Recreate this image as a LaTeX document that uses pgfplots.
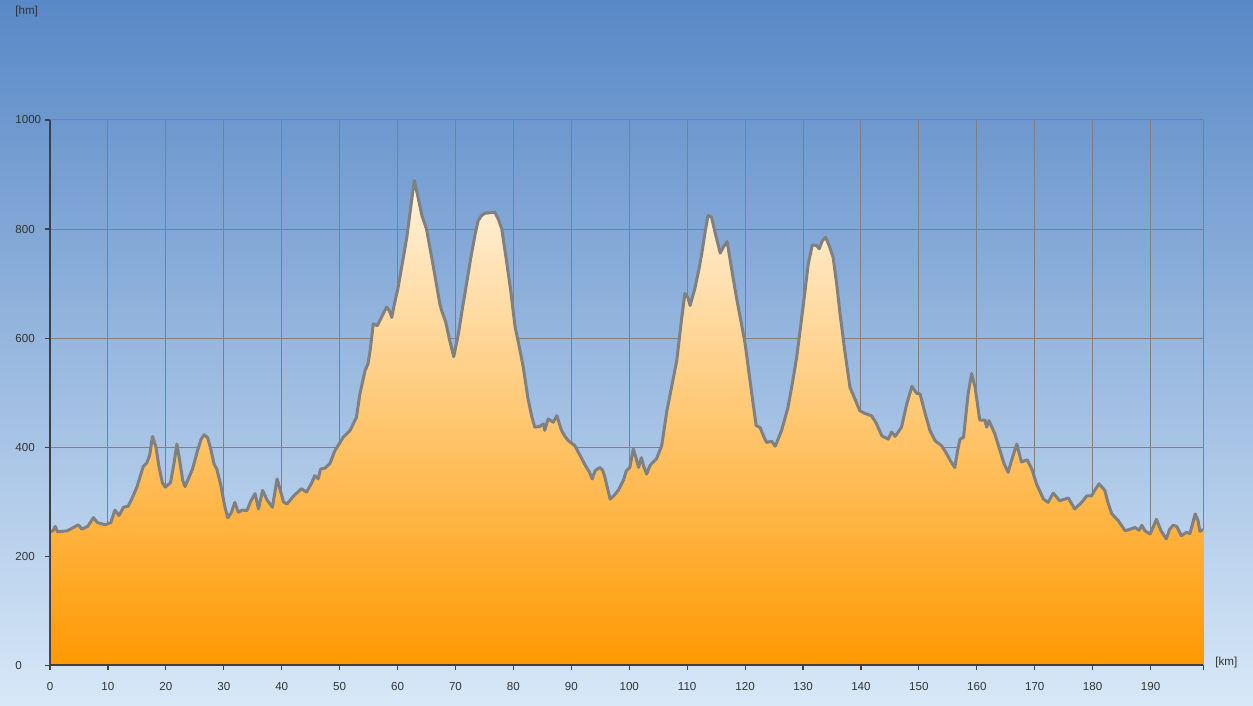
\documentclass[border=0pt]{standalone}
\usepackage{pgfplots}
\pgfplotsset{compat=1.18}
\usepackage{pgfplotstable}
\usepackage{fontspec}
\setmainfont{Liberation Sans}
\definecolor{bgtop}{RGB}{88,136,198}
\definecolor{bgbot}{RGB}{216,232,248}
\definecolor{fillTop}{RGB}{255,243,222}
\definecolor{fillBot}{RGB}{255,153,0}
\definecolor{lineGray}{RGB}{128,128,128}
\definecolor{gridGray}{RGB}{128,128,128}
\definecolor{axisDark}{RGB}{64,64,64}
\definecolor{txt}{RGB}{51,51,51}
\pgfplotstableread{
km h
0 245
0.5 247
0.9 255
1.3 245
3 247
4.9 258
5.5 250
6.5 255
7.5 271
8.2 262
9.5 258
10.5 262
11.2 285
11.9 275
12.7 290
13.5 292
14.1 305
15 327
16.1 365
16.7 371
17.2 385
17.7 420
18.3 400
18.8 365
19.4 335
19.9 327
20.8 335
21.4 370
21.9 406
22.4 375
22.9 340
23.3 328
24 345
24.6 360
25.5 395
26.1 415
26.6 423
27.2 418
27.8 395
28.3 370
28.8 360
29.5 330
30.2 290
30.7 271
31.3 280
31.9 299
32.5 281
33.2 285
34 284
34.6 300
35.4 315
36 287
36.7 321
37.5 303
38.4 290
39.2 342
39.8 320
40.3 300
40.9 296
42 310
43.4 324
44.3 318
45.2 335
45.7 348
46.3 342
46.7 360
47.5 362
48.3 370
49.2 394
50.6 418
51.8 431
52.9 455
53.5 498
54.4 541
54.9 553
55.3 580
55.8 626
56.5 623
57.3 640
58.1 657
58.6 650
59 638
59.4 660
60.1 693
61.6 785
62.4 850
62.9 889
63.5 860
64.2 825
65 800
66.2 730
67.3 663
67.6 651
68.3 630
69 596
69.7 566
70.5 608
71.2 655
71.9 699
72.6 745
73.4 791
73.9 815
74.5 825
75.1 829
76 830
76.8 831
77.4 818
78 800
78.8 742
79.5 690
80.3 620
81 585
81.7 547
82.5 490
83.2 455
83.7 437
84.5 438
85.2 443
85.4 431
86 452
86.9 446
87.5 458
88.3 431
88.9 420
89.5 412
90.6 403
91.5 385
92.4 367
93.1 355
93.6 342
94.1 357
94.9 363
95.4 358
95.8 345
96.3 322
96.7 305
97.4 312
98.1 321
99 340
99.5 357
100.1 363
100.7 397
101.1 383
101.6 363
102.1 381
102.5 365
103 351
103.6 367
104.7 379
105.6 403
106.5 467
107.3 510
108.2 559
109 632
109.6 682
110.1 675
110.5 660
111.3 690
112 725
112.5 754
113.1 795
113.6 825
114.2 822
114.9 790
115.7 756
116.3 768
116.9 777
117.7 725
118.5 675
119.3 630
120 590
121 510
121.9 440
122.6 436
123.2 420
123.7 409
124.6 411
125.2 402
126.3 431
127.4 473
128.2 520
128.9 565
130 657
130.9 736
131.6 771
132.3 770
132.8 764
133.3 778
133.9 785
134.5 770
135.2 748
135.8 700
136.4 644
137.2 577
138.1 510
138.9 490
139.8 467
140.7 462
141.8 458
142.6 445
143.6 421
144.7 415
145.3 428
145.9 420
147 437
147.9 479
148.8 512
149.6 499
150.2 498
151 465
151.9 431
152.8 412
153.9 403
154.7 390
155.4 376
156.2 363
156.7 395
157.1 415
157.7 418
158.5 498
159.1 535
159.7 510
160.5 450
161.4 450
161.7 437
162.1 449
163.1 425
164 394
164.7 370
165.4 354
166 376
166.9 406
167.7 373
168.7 377
169.5 360
170.3 333
171.5 305
172.3 299
173.2 316
174.3 302
175.8 307
176.9 287
178.1 299
179 311
179.8 311
180.4 322
181.1 333
182.1 321
182.6 300
183.3 278
184.4 266
185.6 247
186.5 250
187.3 253
188 248
188.5 257
189 247
189.9 241
190.5 255
191 268
191.8 247
192.7 232
193.3 250
193.9 257
194.5 255
195.3 238
196.2 244
196.8 242
197.7 278
198.2 265
198.5 246
199.1 249
}\profile

\begin{document}
\begin{tikzpicture}[x=1pt,y=1pt]
\shade[top color=bgtop, bottom color=bgbot] (0,0) rectangle (626.5,353);
\begin{axis}[
  at={(25pt,20.25pt)}, anchor=south west,
  scale only axis, width=576.65pt, height=272.75pt,
  xmin=0, xmax=199.1, ymin=0, ymax=1000,
  axis x line=bottom, axis y line=left,
  axis line style={-, axisDark, line width=1pt},
  tick align=outside, major tick length=2.5pt,
  tick style={axisDark, line width=0.6pt},
  xtick={0,10,...,190}, ytick={0,200,...,1000},
  extra x ticks={199.1}, extra x tick labels={},
  grid=major, major grid style={gridGray, line width=0.5pt},
  /pgf/number format/assume math mode=true,
  /pgf/number format/1000 sep={},
  ticklabel style={font=\fontsize{5.8}{7}\selectfont, text=txt},
  yticklabel style={anchor=west, xshift=-15pt, inner sep=0pt},
  xticklabel style={anchor=center, yshift=-8pt},
  clip=true,
]
\addplot[draw=none, top color=fillTop, bottom color=fillBot, mark=none] table[x=km,y=h] {\profile} \closedcycle;
\addplot[lineGray, line width=1.5pt, line join=round, mark=none] table[x=km,y=h] {\profile};
\draw[axisDark, line width=1pt] (rel axis cs:0,1) -- (rel axis cs:0,0) -- (rel axis cs:1,0);
\end{axis}
\node[anchor=west, inner sep=0pt, text=txt, font=\fontsize{5.8}{7}\selectfont] at (7.5,347) {[hm]};
\node[anchor=west, inner sep=0pt, text=txt, font=\fontsize{5.8}{7}\selectfont] at (607.5,21.85) {[km]};
\pgfresetboundingbox
\path[use as bounding box] (0,0) rectangle (626.5,353);
\end{tikzpicture}
\end{document}
